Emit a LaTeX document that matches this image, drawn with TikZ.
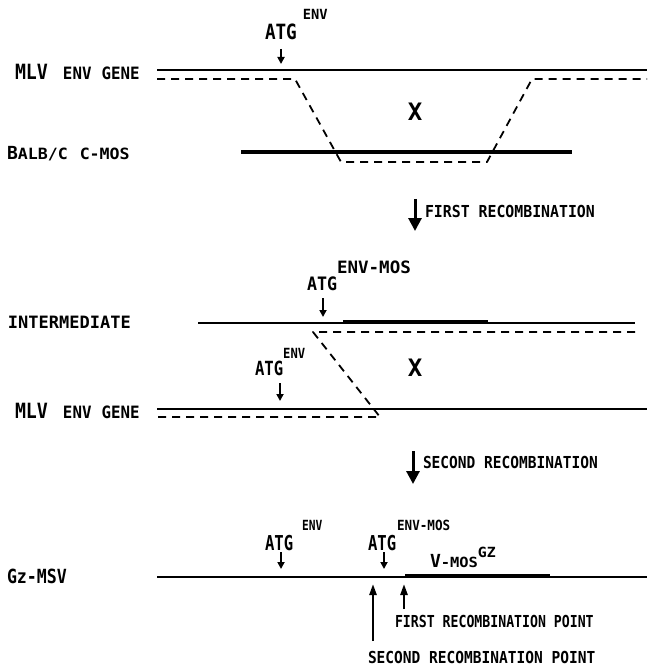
\documentclass[tikz,border=0pt]{standalone}
\usepackage{fontspec}
\usepackage{graphicx}
\usetikzlibrary{arrows.meta}
\newfontfamily\lf{DejaVu Sans Mono}
\newcommand\tx[3]{\scalebox{#2}[1]{\fontsize{#1}{#1}\selectfont #3}}
\begin{document}
\begin{tikzpicture}[x=1pt,y=-1pt,
  lbl/.style={inner sep=0pt,outer sep=0pt,anchor=base west,font=\lf\bfseries},
  cross/.style={inner sep=0pt,outer sep=0pt,font=\lf\bfseries\fontsize{24}{24}\selectfont},
  gene/.style={line width=1.7pt},
  seg/.style={line width=3.8pt},
  midseg/.style={line width=3.6pt},
  xover/.style={line width=1.8pt,dash pattern=on 8pt off 6pt,line join=round},
  ptr/.style={line width=1.8pt,-{Triangle[length=7pt,width=7pt]}},
  bigptr/.style={line width=3pt,-{Triangle[length=13pt,width=13pt]}},
  upptr/.style={line width=2.4pt,-{Triangle[length=11pt,width=7pt]}}]
\useasboundingbox (0,0) rectangle (647,668);

% ---------- top block ----------
\node[lbl] (atg1) at (265,40) {\tx{21}{0.84}{ATG}\hspace{6pt}\raisebox{20pt}{\tx{14}{0.98}{ENV}}};
\node[lbl] (mlv1) at (15,80) {\tx{21}{0.87}{MLV}\hspace{15pt}\tx{17}{0.93}{ENV}\hspace{10pt}\tx{17}{0.93}{GENE}};
\node[lbl] (balb) at (7,160) {\tx{18}{1.0}{B}\tx{15.5}{1.07}{ALB/C}\hspace{12pt}\tx{15.5}{1.07}{C-MOS}};
\node[cross] (x1) at (415,112) {X};

\coordinate (t1a) at (157,70);  \coordinate (t1b) at (647,70);
\draw[gene] (t1a) -- (t1b);
\coordinate (c1a) at (241,152); \coordinate (c1b) at (572,152);
\draw[seg] (c1a) -- (c1b);
\draw[xover] (157,79) -- (295,79) -- (341,162) -- (487,162) -- (532,79) -- (647,79);

\coordinate (p1s) at (281,49); \coordinate (p1e) at (281,64);
\draw[ptr] (p1s) -- (p1e);

\node[lbl] (fr) at (425,218) {\tx{16.5}{0.9}{FIRST RECOMBINATION}};
\coordinate (r1s) at (415,199); \coordinate (r1e) at (415,231);
\draw[bigptr] (r1s) -- (r1e);

% ---------- middle block ----------
\node[lbl] (atg2) at (307,290) {\tx{18.5}{0.9}{ATG}\raisebox{17pt}{\tx{17}{1.03}{ENV-MOS}}};
\node[lbl] (inter) at (8,328) {\tx{17}{1.0}{INTERMEDIATE}};
\node[lbl] (atg3) at (255,375) {\tx{19.5}{0.8}{ATG}\raisebox{17pt}{\tx{14}{0.87}{ENV}}};
\node[lbl] (mlv2) at (15,418) {\tx{21}{0.87}{MLV}\hspace{15pt}\tx{17}{0.93}{ENV}\hspace{10pt}\tx{17}{0.93}{GENE}};
\node[cross] (x2) at (415,368) {X};

\coordinate (i1a) at (198,323); \coordinate (i1b) at (635,323);
\draw[gene] (i1a) -- (i1b);
\coordinate (i2a) at (343,322); \coordinate (i2b) at (488,322);
\draw[midseg] (i2a) -- (i2b);
\coordinate (m2a) at (157,409); \coordinate (m2b) at (647,409);
\draw[gene] (m2a) -- (m2b);
\draw[xover] (635,332) -- (313,332) -- (380,417) -- (157,417);

\coordinate (p2s) at (323,298); \coordinate (p2e) at (323,317);
\draw[ptr] (p2s) -- (p2e);
\coordinate (p3s) at (280,383); \coordinate (p3e) at (280,401);
\draw[ptr] (p3s) -- (p3e);

\node[lbl] (sr) at (423,468) {\tx{16.5}{0.88}{SECOND RECOMBINATION}};
\coordinate (r2s) at (413,451); \coordinate (r2e) at (413,484);
\draw[bigptr] (r2s) -- (r2e);

% ---------- bottom block ----------
\node[lbl] (atg4) at (265,550) {\tx{20.5}{0.76}{ATG}\hspace{9pt}\raisebox{20pt}{\tx{14}{0.8}{ENV}}};
\node[lbl] (atg5) at (368,550) {\tx{20.5}{0.76}{ATG}\hspace{1pt}\raisebox{20pt}{\tx{14}{0.9}{ENV-MOS}}};
\node[lbl] (vmos) at (430,567) {\tx{18}{1.0}{V}\tx{14}{1.1}{-MOS}\raisebox{10pt}{\tx{14}{1.06}{GZ}}};
\node[lbl] (gz) at (7,583) {\tx{19.5}{0.85}{Gz-MSV}};

\coordinate (g1a) at (157,577); \coordinate (g1b) at (647,577);
\draw[gene] (g1a) -- (g1b);
\coordinate (g2a) at (405,576); \coordinate (g2b) at (550,576);
\draw[midseg] (g2a) -- (g2b);

\coordinate (p4s) at (281,552); \coordinate (p4e) at (281,569);
\draw[ptr] (p4s) -- (p4e);
\coordinate (p5s) at (384,552); \coordinate (p5e) at (384,569);
\draw[ptr] (p5s) -- (p5e);

\coordinate (u1s) at (373,641); \coordinate (u1e) at (373,584);
\draw[upptr] (u1s) -- (u1e);
\coordinate (u2s) at (404,609); \coordinate (u2e) at (404,584);
\draw[upptr] (u2s) -- (u2e);

\node[lbl] (frp) at (395,627) {\tx{16.5}{0.8}{FIRST RECOMBINATION POINT}};
\node[lbl] (srp) at (368,663) {\tx{16.5}{0.88}{SECOND RECOMBINATION POINT}};
\end{tikzpicture}
\end{document}
